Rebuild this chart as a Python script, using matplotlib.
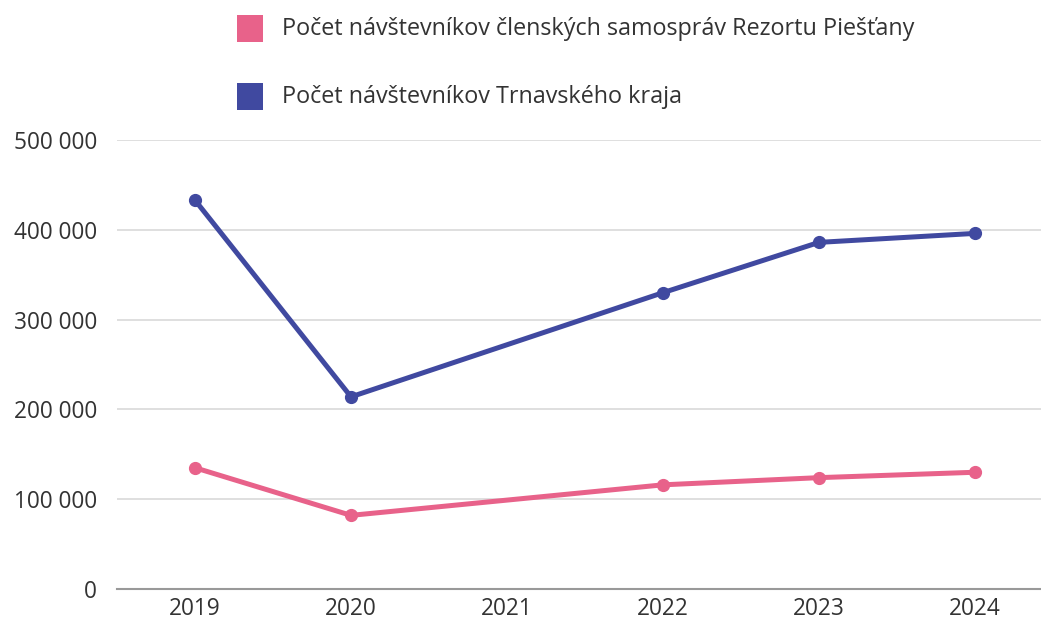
import matplotlib
matplotlib.use("Agg")
import matplotlib.pyplot as plt
from matplotlib.patches import Rectangle
from matplotlib.ticker import FuncFormatter

plt.rcParams['font.family'] = ['Open Sans', 'DejaVu Sans']

years = [2019, 2020, 2021, 2022, 2023, 2024]
data_years = [2019, 2020, 2022, 2023, 2024]
rezort = [135000, 82000, 116000, 124000, 130000]
trnava = [433000, 214000, 330000, 386000, 396000]
labels = ["Počet návštevníkov členských samospráv Rezortu Piešťany",
          "Počet návštevníkov Trnavského kraja"]
pink = "#E8628A"
blue = "#4049A0"

fig = plt.figure(figsize=(10.41, 6.23), dpi=100)
ax = fig.add_axes([117/1041, 1-589/623, 1-117/1041, (589-140)/623])

ax.plot(data_years, trnava, color=blue, lw=3.6, marker='o', ms=8.5, solid_capstyle='round', zorder=3)
ax.plot(data_years, rezort, color=pink, lw=3.6, marker='o', ms=8.5, solid_capstyle='round', zorder=3)

ax.set_xlim(2018.5, 2018.5 + (1041-117)/156)
ax.set_ylim(0, 500000)
ax.set_xticks(years)
ax.set_yticks(range(0, 500001, 100000))
ax.yaxis.set_major_formatter(FuncFormatter(lambda v, p: f"{int(v):,}".replace(",", " ")))
ax.grid(axis='y', color='#d9d9d9', lw=1.2)
ax.set_axisbelow(True)
for s in ['top', 'right', 'left']:
    ax.spines[s].set_visible(False)
ax.spines['bottom'].set_color('#999999')
ax.spines['bottom'].set_linewidth(1.5)
ax.tick_params(axis='both', length=0, labelsize=16.3, colors='#333333')
ax.tick_params(axis='y', pad=14.5)
ax.tick_params(axis='x', pad=6)

# legend
for i, (lab, col) in enumerate(zip(labels, [pink, blue])):
    yc = 1 - (29 + 68*i)/623
    fig.patches.append(Rectangle((237/1041, yc - 13/623), 26/1041, 27/623,
                                 transform=fig.transFigure, facecolor=col, edgecolor='none'))
    fig.text(282/1041, yc, lab, fontsize=16.8, color='#333333', va='center', ha='left')

fig.savefig("out.png", dpi=100)
